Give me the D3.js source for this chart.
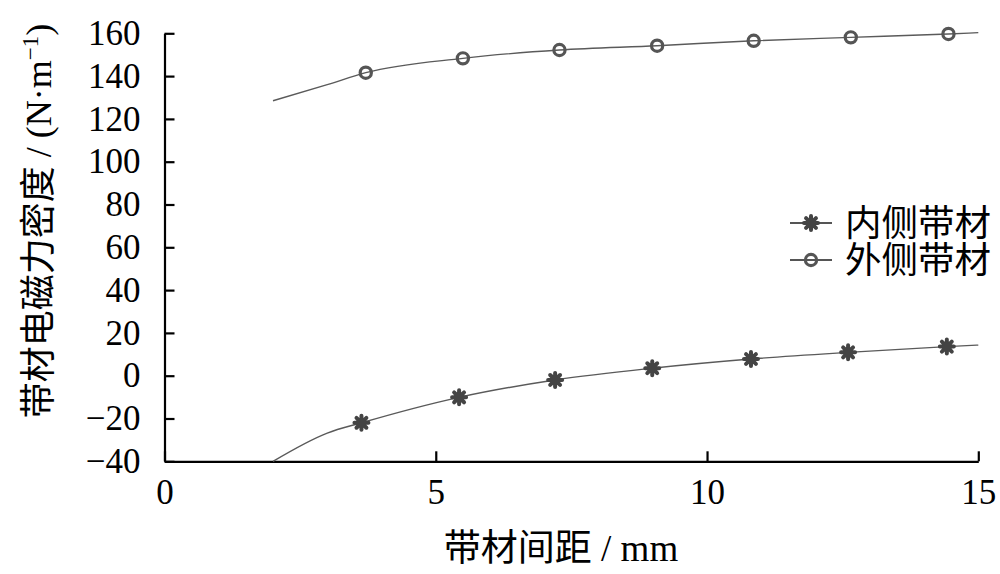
<!DOCTYPE html>
<html><head><meta charset="utf-8">
<script src="https://cdn.jsdelivr.net/npm/d3@7"></script>
<style>
html,body{margin:0;padding:0;background:#fff;}
svg{display:block;}
</style></head>
<body>
<svg id="c" width="1000" height="574"></svg>
<script>
// ---- data ----
const seriesNames = ["内侧带材", "外侧带材"];
const innerX = [3.63, 5.43, 7.20, 8.99, 10.81, 12.60, 14.42];
const innerY = [-22.0, -10.1, -2.0, 3.5, 7.8, 10.9, 13.6];
const outerX = [3.71, 5.50, 7.28, 9.08, 10.86, 12.65, 14.45];
const outerY = [141.6, 148.3, 152.2, 154.2, 156.5, 158.1, 159.7];
// fitted curves
const innerFitX = [2.0, 3.0, 3.63, 5.43, 7.20, 8.99, 10.81, 12.60, 14.42, 15.0];
const innerFitY = [-40.0, -26.8, -22.0, -10.1, -2.0, 3.5, 7.8, 10.9, 13.6, 14.3];
const outerFitX = [2.0, 3.0, 3.71, 5.50, 7.28, 9.08, 10.86, 12.65, 14.45, 15.0];
const outerFitY = [128.5, 136.0, 141.6, 148.3, 152.2, 154.2, 156.5, 158.1, 159.7, 160.3];
const xTicks = [0, 5, 10, 15];
const yTicks = [-40, -20, 0, 20, 40, 60, 80, 100, 120, 140, 160];
const xLabel = "带材间距 / mm";
const yLabelMain = "带材电磁力密度 / (N·m";
const yLabelSup = "−1";

// ---- layout ----
const W = 1000, H = 574;
const m = {left: 164.5, right: 21.7, top: 33.3, bottom: 112.7};
const svg = d3.select("#c");
const x = d3.scaleLinear().domain([0, 15]).range([m.left, W - m.right]);
const y = d3.scaleLinear().domain([-40, 160]).range([H - m.bottom, m.top]);
const latin = "'Liberation Serif','Times New Roman',serif";
const cjk = "'Liberation Serif','Noto Sans CJK SC',serif";

// axes
const gx = svg.append("g").attr("transform", `translate(0,${y(-40)})`)
  .call(d3.axisBottom(x).tickValues(xTicks).tickSizeInner(-10).tickSizeOuter(0).tickPadding(18));
const gy = svg.append("g").attr("transform", `translate(${x(0)},0)`)
  .call(d3.axisLeft(y).tickValues(yTicks).tickSizeInner(-10).tickSizeOuter(0).tickPadding(24));
[gx, gy].forEach(g => {
  g.select(".domain").attr("stroke", "#000").attr("stroke-width", 2.2);
  g.selectAll(".tick line").attr("stroke", "#000").attr("stroke-width", 2.2);
  g.selectAll(".tick text").attr("font-family", latin).attr("font-size", 35).attr("fill", "#000");
});

// curves
const line = d3.line().x(d => x(d[0])).y(d => y(d[1])).curve(d3.curveMonotoneX);
const innerFit = innerFitX.map((v, i) => [v, innerFitY[i]]);
const outerFit = outerFitX.map((v, i) => [v, outerFitY[i]]);
[innerFit, outerFit].forEach(d => {
  svg.append("path").datum(d).attr("d", line)
    .attr("fill", "none").attr("stroke", "#5a5a5a").attr("stroke-width", 1.4);
});

// markers
const starPath = (r) => {
  const p = [];
  for (let k = 0; k < 4; k++) {
    const a = k * Math.PI / 4;
    p.push(`M${-r*Math.cos(a)},${-r*Math.sin(a)}L${r*Math.cos(a)},${r*Math.sin(a)}`);
  }
  return p.join("");
};
function drawStar(g, cx, cy) {
  g.append("path").attr("d", starPath(7)).attr("transform", `translate(${cx},${cy})`)
    .attr("stroke", "#444").attr("stroke-width", 4).attr("stroke-linecap", "round").attr("fill", "none");
}
function drawRing(g, cx, cy) {
  g.append("circle").attr("cx", cx).attr("cy", cy).attr("r", 5.6)
    .attr("fill", "none").attr("stroke", "#555").attr("stroke-width", 3.2);
}
const mk = svg.append("g");
innerX.forEach((v, i) => drawStar(mk, x(v), y(innerY[i])));
outerX.forEach((v, i) => drawRing(mk, x(v), y(outerY[i])));

// legend
const leg = svg.append("g");
const legRows = [223, 260];
legRows.forEach((ly, i) => {
  leg.append("line").attr("x1", 790).attr("x2", 832).attr("y1", ly).attr("y2", ly)
    .attr("stroke", "#555").attr("stroke-width", 2);
  if (i === 0) drawStar(leg, 811, ly); else drawRing(leg, 811, ly);
  leg.append("text").attr("x", 845).attr("y", ly).attr("dy", "0.36em")
    .attr("font-family", cjk).attr("font-size", 36.5).attr("fill", "#000").text(seriesNames[i]);
});

// axis labels
svg.append("text").attr("x", 561).attr("y", 561)
  .attr("text-anchor", "middle").attr("font-family", cjk).attr("font-size", 37).attr("fill", "#000")
  .text(xLabel);
const yl = svg.append("text").attr("transform", "translate(51,221) rotate(-90)")
  .attr("text-anchor", "middle").attr("font-family", cjk).attr("font-size", 36).attr("fill", "#000");
yl.append("tspan").text(yLabelMain);
yl.append("tspan").attr("dy", -13).attr("font-size", 23).text(yLabelSup);
yl.append("tspan").attr("dy", 13).text(")");
</script>
</body></html>
